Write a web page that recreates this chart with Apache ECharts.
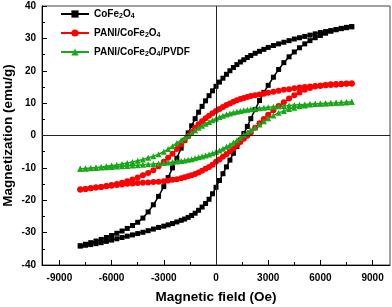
<!DOCTYPE html>
<html><head><meta charset="utf-8">
<script src="https://cdn.jsdelivr.net/npm/echarts@6/dist/echarts.min.js"></script>
<style>html,body{margin:0;padding:0;background:#fff}#c{width:392px;height:307px}</style>
</head><body><div id="c"></div>
<script>
// Applied field (Oe), descending branch (+7800 -> -7800) and ascending branch (-7800 -> +7800)
const fieldDown = [7800,7500,7200,6900,6600,6300,6000,5700,5400,5100,4800,4500,4200,3900,3600,3300,3000,2750,2500,2250,2000,1800,1600,1400,1200,1000,800,600,400,200,0,-200,-400,-600,-800,-1000,-1200,-1400,-1600,-1800,-2000,-2250,-2500,-2750,-3000,-3300,-3600,-3900,-4200,-4500,-4800,-5100,-5400,-5700,-6000,-6300,-6600,-6900,-7200,-7500,-7800];
const fieldUp = [-7800,-7500,-7200,-6900,-6600,-6300,-6000,-5700,-5400,-5100,-4800,-4500,-4200,-3900,-3600,-3300,-3000,-2750,-2500,-2250,-2000,-1800,-1600,-1400,-1200,-1000,-800,-600,-400,-200,0,200,400,600,800,1000,1200,1400,1600,1800,2000,2250,2500,2750,3000,3300,3600,3900,4200,4500,4800,5100,5400,5700,6000,6300,6600,6900,7200,7500,7800];

// Magnetization (emu/g)
const coFeDown = [33.6,33.3,33.0,32.7,32.4,32.1,31.8,31.4,31.0,30.6,30.2,29.8,29.3,28.8,28.3,27.8,27.2,26.6,26.0,25.4,24.7,24.1,23.4,22.7,21.9,21.0,20.0,18.9,17.7,16.5,15.2,13.8,12.3,10.7,9.0,7.2,5.2,3.0,0.8,-1.5,-3.9,-7.0,-10.0,-13.0,-15.8,-18.8,-21.4,-23.6,-25.5,-26.8,-27.8,-28.7,-29.5,-30.2,-30.9,-31.5,-32.1,-32.6,-33.1,-33.6,-34.1];
const coFeUp = [-34.1,-33.9,-33.7,-33.4,-33.1,-32.7,-32.3,-31.9,-31.5,-31.1,-30.7,-30.3,-29.9,-29.4,-28.9,-28.4,-28.0,-27.6,-27.2,-26.7,-26.2,-25.8,-25.3,-24.7,-24.0,-23.1,-22.1,-21.0,-19.7,-18.0,-16.0,-13.9,-11.8,-9.7,-7.6,-5.5,-3.4,-1.4,0.6,2.8,5.2,8.0,10.8,13.3,15.5,18.0,20.4,22.5,24.3,25.8,27.1,28.3,29.3,30.2,30.9,31.6,32.2,32.7,33.1,33.4,33.6];

const paniDown = [16.1,15.95,15.8,15.7,15.6,15.5,15.4,15.3,15.1,15.0,14.8,14.6,14.3,14.1,13.8,13.5,13.2,12.9,12.7,12.4,12.2,11.9,11.6,11.3,10.9,10.4,9.9,9.4,8.8,8.2,7.6,6.9,6.1,5.3,4.4,3.5,2.4,1.1,-0.2,-1.5,-2.8,-4.2,-5.6,-6.9,-8.1,-9.5,-10.7,-11.6,-12.3,-13.0,-13.6,-14.1,-14.6,-15.0,-15.3,-15.6,-15.9,-16.1,-16.3,-16.5,-16.7];
const paniUp = [-16.7,-16.5,-16.3,-16.1,-15.9,-15.7,-15.5,-15.3,-15.1,-14.9,-14.8,-14.7,-14.6,-14.5,-14.4,-14.3,-14.1,-13.9,-13.7,-13.5,-13.2,-12.9,-12.6,-12.3,-11.9,-11.4,-10.9,-10.3,-9.7,-9.0,-8.1,-7.4,-6.6,-5.8,-4.9,-4.0,-3.0,-2.0,-1.0,-0.1,0.9,2.4,3.8,5.1,6.4,7.8,9.1,10.3,11.4,12.4,13.3,14.1,14.7,15.1,15.4,15.6,15.8,15.9,16.0,16.05,16.1];

const pvdfDown = [10.4,10.3,10.2,10.1,10.05,9.95,9.85,9.8,9.7,9.6,9.5,9.4,9.3,9.15,9.0,8.85,8.7,8.55,8.4,8.25,8.1,7.95,7.8,7.6,7.35,7.1,6.8,6.5,6.1,5.7,5.2,4.7,4.2,3.6,3.0,2.4,1.6,0.8,0.0,-0.8,-1.5,-2.3,-3.3,-4.2,-5.0,-5.8,-6.4,-6.9,-7.4,-7.8,-8.2,-8.5,-8.8,-9.1,-9.3,-9.5,-9.7,-9.9,-10.0,-10.2,-10.3];
const pvdfUp = [-10.3,-10.2,-10.1,-10.0,-9.9,-9.8,-9.7,-9.6,-9.5,-9.4,-9.3,-9.2,-9.05,-8.9,-8.8,-8.65,-8.5,-8.35,-8.2,-8.05,-7.9,-7.7,-7.5,-7.3,-7.0,-6.75,-6.5,-6.2,-5.9,-5.5,-5.1,-4.6,-4.1,-3.5,-2.9,-2.2,-1.5,-0.7,0.2,0.9,1.6,2.5,3.4,4.4,5.3,6.2,7.0,7.6,8.2,8.6,9.0,9.3,9.55,9.7,9.8,9.9,10.0,10.1,10.2,10.3,10.4];

const seriesNames = ['CoFe2O4', 'PANI/CoFe2O4', 'PANI/CoFe2O4/PVDF'];
const xMajorTicks = [-9000, -6000, -3000, 0, 3000, 6000, 9000];
const xMinorTicks = [-7500, -4500, -1500, 1500, 4500, 7500];

const FONT = '"Liberation Sans", Arial, Helvetica, sans-serif';

function loop(down, up) {
  const d = fieldDown.map((h, i) => [h, down[i]]);
  const u = fieldUp.map((h, i) => [h, up[i]]);
  return d.concat(u);
}

const legendRich = {
  'CoFe2O4': '{a|CoFe}{b|2}{a|O}{b|4}',
  'PANI/CoFe2O4': '{a|PANI/CoFe}{b|2}{a|O}{b|4}',
  'PANI/CoFe2O4/PVDF': '{a|PANI/CoFe}{b|2}{a|O}{b|4}{a|/PVDF}'
};

const chart = echarts.init(document.getElementById('c'), null, {renderer: 'canvas'});
chart.setOption({
  animation: false,
  backgroundColor: '#fff',
  grid: {left: 42, right: 2, top: 6, bottom: 42, show: true, borderColor: '#444', borderWidth: 1, backgroundColor: 'transparent', containLabel: false, outerBoundsMode: 'none'},
  legend: {
    orient: 'vertical', left: 55, top: 4, itemWidth: 28, itemHeight: 9, itemGap: 8,
    data: seriesNames,
    formatter: name => legendRich[name],
    textStyle: {
      fontFamily: FONT, color: '#000',
      rich: {
        a: {fontSize: 10, fontWeight: 'bold', fontFamily: FONT, color: '#000'},
        b: {fontSize: 7, fontWeight: 'bold', fontFamily: FONT, color: '#000', padding: [5, 0, 0, 0]}
      }
    }
  },
  xAxis: [{
    type: 'value', min: -10000, max: 10000, position: 'bottom',
    axisLine: {show: true, onZero: false, lineStyle: {color: '#000', width: 1}},
    axisTick: {show: true, inside: true, length: 5, customValues: xMajorTicks, lineStyle: {color: '#000'}},
    axisLabel: {customValues: xMajorTicks, formatter: v => String(v), fontSize: 10, fontWeight: 'bold', color: '#000', fontFamily: FONT, margin: 8},
    splitLine: {show: false},
    name: 'Magnetic field (Oe)', nameLocation: 'middle', nameGap: 25, nameMoveOverlap: false,
    nameTextStyle: {fontSize: 13.5, fontWeight: 'bold', color: '#000', fontFamily: FONT}
  }, {
    type: 'value', min: -10000, max: 10000, position: 'bottom',
    axisLine: {show: false, onZero: false},
    axisTick: {show: true, inside: true, length: 3, customValues: xMinorTicks, lineStyle: {color: '#000'}},
    axisLabel: {show: false},
    splitLine: {show: false}
  }],
  yAxis: {
    type: 'value', min: -40, max: 40, interval: 10,
    axisLine: {show: true, onZero: false, lineStyle: {color: '#000', width: 1}},
    axisTick: {show: true, inside: true, length: 5, lineStyle: {color: '#000'}},
    minorTick: {show: true, splitNumber: 2, length: 3, lineStyle: {color: '#000'}},
    axisLabel: {fontSize: 10, fontWeight: 'bold', color: '#000', fontFamily: FONT, margin: 6},
    splitLine: {show: false},
    name: 'Magnetization (emu/g)', nameLocation: 'middle', nameGap: 27, nameMoveOverlap: false,
    nameTextStyle: {fontSize: 13.5, fontWeight: 'bold', color: '#000', fontFamily: FONT}
  },
  series: [{
    name: seriesNames[0], type: 'line', data: loop(coFeDown, coFeUp),
    symbol: 'rect', symbolSize: 5, color: '#000',
    lineStyle: {width: 1.5, color: '#000'}, itemStyle: {color: '#000'},
    markLine: {
      silent: true, symbol: ['none', 'none'], label: {show: false},
      lineStyle: {color: '#222', width: 1, type: 'solid'},
      data: [{xAxis: 0}, {yAxis: 0}]
    }
  }, {
    name: seriesNames[1], type: 'line', data: loop(paniDown, paniUp),
    symbol: 'circle', symbolSize: 6, color: '#ff0000',
    lineStyle: {width: 1.5, color: '#ff0000'}, itemStyle: {color: '#ff0000'}
  }, {
    name: seriesNames[2], type: 'line', data: loop(pvdfDown, pvdfUp),
    symbol: 'triangle', symbolSize: 6, color: '#18a818',
    lineStyle: {width: 1.5, color: '#18a818'}, itemStyle: {color: '#18a818'}
  }]
});
</script>
</body></html>
